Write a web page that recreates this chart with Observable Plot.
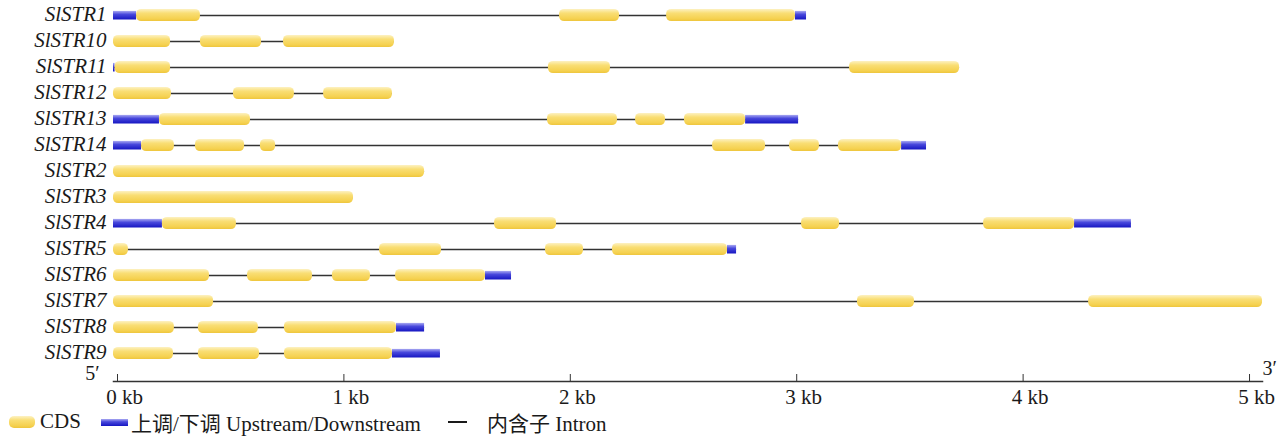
<!DOCTYPE html>
<html>
<head>
<meta charset="utf-8">
<script src="https://cdn.jsdelivr.net/npm/d3@7"></script>
<script src="https://cdn.jsdelivr.net/npm/@observablehq/plot@0.6"></script>
<style>
  body { margin: 0; background: #fff; }
  #chart svg { display: block; }
  #legend { position: relative; width: 1288px; height: 31px; font-family: "Liberation Serif", "Times New Roman", "Noto Sans CJK SC", serif; font-size: 21px; color: #1a1a1a; }
  #legend .item { position: absolute; top: -2px; height: 31px; display: flex; align-items: center; white-space: nowrap; }
  #legend .sw { position: absolute; }
</style>
</head>
<body>
<div id="chart"></div>
<div id="legend"></div>
<script>
// Gene names (top to bottom)
const genes = ["SlSTR1","SlSTR10","SlSTR11","SlSTR12","SlSTR13","SlSTR14","SlSTR2","SlSTR3","SlSTR4","SlSTR5","SlSTR6","SlSTR7","SlSTR8","SlSTR9"];

// CDS segments: [gene, start kb, end kb]
const cdsSegments = [
  ["SlSTR1",0.102,0.384],["SlSTR1",1.970,2.235],["SlSTR1",2.443,3.012],
  ["SlSTR10",0,0.252],["SlSTR10",0.384,0.654],["SlSTR10",0.751,1.241],
  ["SlSTR11",0.007,0.252],["SlSTR11",1.921,2.195],["SlSTR11",3.251,3.737],
  ["SlSTR12",0,0.256],["SlSTR12",0.530,0.799],["SlSTR12",0.928,1.232],
  ["SlSTR13",0.203,0.605],["SlSTR13",1.917,2.226],["SlSTR13",2.306,2.438],["SlSTR13",2.522,2.792],
  ["SlSTR14",0.124,0.269],["SlSTR14",0.362,0.579],["SlSTR14",0.649,0.716],["SlSTR14",2.646,2.880],["SlSTR14",2.986,3.118],["SlSTR14",3.202,3.481],
  ["SlSTR2",0,1.374],
  ["SlSTR3",0,1.060],
  ["SlSTR4",0.216,0.543],["SlSTR4",1.683,1.957],["SlSTR4",3.039,3.207],["SlSTR4",3.843,4.245],
  ["SlSTR5",0,0.066],["SlSTR5",1.175,1.449],["SlSTR5",1.908,2.076],["SlSTR5",2.204,2.712],
  ["SlSTR6",0,0.424],["SlSTR6",0.592,0.879],["SlSTR6",0.967,1.135],["SlSTR6",1.246,1.643],
  ["SlSTR7",0,0.442],["SlSTR7",3.286,3.538],["SlSTR7",4.307,5.075],
  ["SlSTR8",0,0.269],["SlSTR8",0.375,0.640],["SlSTR8",0.755,1.250],
  ["SlSTR9",0,0.265],["SlSTR9",0.375,0.645],["SlSTR9",0.755,1.232]
];

// Upstream / downstream (UTR) segments: [gene, start kb, end kb]
const utrSegments = [
  ["SlSTR1",0,0.102],["SlSTR1",3.012,3.061],
  ["SlSTR11",0,0.007],
  ["SlSTR13",0,0.203],["SlSTR13",2.792,3.026],
  ["SlSTR14",0,0.124],["SlSTR14",3.481,3.591],
  ["SlSTR4",0,0.216],["SlSTR4",4.245,4.496],
  ["SlSTR5",2.712,2.752],
  ["SlSTR6",1.643,1.758],
  ["SlSTR8",1.250,1.374],
  ["SlSTR9",1.232,1.444]
];

const tickValues = [0, 1, 2, 3, 4, 5];
const tickLabels = ["0 kb", "1 kb", "2 kb", "3 kb", "4 kb", "5 kb"];
const endLabels = ["5′", "3′"];
const legendLabels = ["CDS", "上调/下调 Upstream/Downstream", "内含子 Intron"];

// Intron line spans each gene from its first to last feature
const introns = d3.rollups([...cdsSegments, ...utrSegments],
  v => [d3.min(v, d => d[1]), d3.max(v, d => d[2])], d => d[0])
  .map(([gene, [start, end]]) => ({gene, start, end}));

const serif = "'Liberation Serif', 'Times New Roman', serif";
const ticks = tickValues.map((v, i) => ({v, label: tickLabels[i]}));

const chart = Plot.plot({
  width: 1288,
  height: 408,
  marginLeft: 113,
  marginRight: 26,
  marginTop: 0,
  marginBottom: 27,
  style: {fontFamily: serif, fontSize: "21px", color: "#1a1a1a", background: "#fff", overflow: "visible"},
  x: {domain: [0, 5.075], label: null},
  y: {type: "band", domain: genes, range: [-0.88, 368.2], padding: 0, axis: null, label: null},
  marks: [
    Plot.frame({anchor: "bottom", stroke: "#333", strokeWidth: 1.5}),
    Plot.axisX(tickValues, {anchor: "bottom", tickSize: 7, dy: -7, dx: 4, tickFormat: () => "", stroke: "#333", label: null}),
    Plot.text(ticks, {x: "v", text: "label", frameAnchor: "bottom", lineAnchor: "top", dy: 8, dx: 11, fontSize: 21, fontFamily: serif, fill: "#1a1a1a"}),
    Plot.ruleY(introns, {y: "gene", x1: "start", x2: "end", stroke: "#333", strokeWidth: 1.4}),
    Plot.barX(utrSegments, {y: d => d[0], x1: d => d[1], x2: d => d[2], fill: "url(#utrGrad)", insetTop: 8.9, insetBottom: 8.5}),
    Plot.barX(cdsSegments, {y: d => d[0], x1: d => d[1], x2: d => d[2], fill: "url(#cdsGrad)", rx: 5, insetTop: 6.9, insetBottom: 6.9}),
    Plot.text(genes, {y: d => d, frameAnchor: "left", dx: -7, dy: -1, textAnchor: "end", fontStyle: "italic", fontSize: 21, fontFamily: serif, fill: "#1a1a1a"}),
    Plot.text([endLabels[0]], {frameAnchor: "bottom-left", dx: -21, dy: -2, lineAnchor: "bottom", textAnchor: "middle", fontSize: 20, fontFamily: serif, fill: "#1a1a1a"}),
    Plot.text([endLabels[1]], {frameAnchor: "bottom-right", dx: 0, dy: -7, lineAnchor: "bottom", textAnchor: "start", fontSize: 20, fontFamily: serif, fill: "#1a1a1a"})
  ]
});

d3.select(chart).insert("defs", ":first-child").html(`
  <linearGradient id="cdsGrad" x1="0" y1="0" x2="0" y2="1">
    <stop offset="0" stop-color="#fdf2c4"/>
    <stop offset="0.35" stop-color="#f9de74"/>
    <stop offset="0.8" stop-color="#f5d150"/>
    <stop offset="1" stop-color="#eec53c"/>
  </linearGradient>
  <linearGradient id="utrGrad" x1="0" y1="0" x2="0" y2="1">
    <stop offset="0" stop-color="#a9a9f2"/>
    <stop offset="0.4" stop-color="#4848dc"/>
    <stop offset="1" stop-color="#1616c2"/>
  </linearGradient>`);

document.getElementById("chart").appendChild(chart);

// Legend (HTML, below the SVG)
const legend = d3.select("#legend");
legend.append("div").attr("class", "sw").style("left", "9px").style("top", "8px")
  .style("width", "26px").style("height", "12px").style("border-radius", "5px")
  .style("background", "linear-gradient(#fdf2c4, #f9de74 35%, #f5d150 80%, #eec53c)");
legend.append("div").attr("class", "item").style("left", "40px").text(legendLabels[0]);
legend.append("div").attr("class", "sw").style("left", "101px").style("top", "11px")
  .style("width", "27px").style("height", "7px")
  .style("background", "linear-gradient(#a9a9f2, #4848dc 40%, #1616c2)");
legend.append("div").attr("class", "item").style("left", "131px").text(legendLabels[1]);
legend.append("div").attr("class", "sw").style("left", "448px").style("top", "13px")
  .style("width", "19px").style("height", "2px").style("background", "#1a1a1a");
legend.append("div").attr("class", "item").style("left", "487px").text(legendLabels[2]);
</script>
</body>
</html>
